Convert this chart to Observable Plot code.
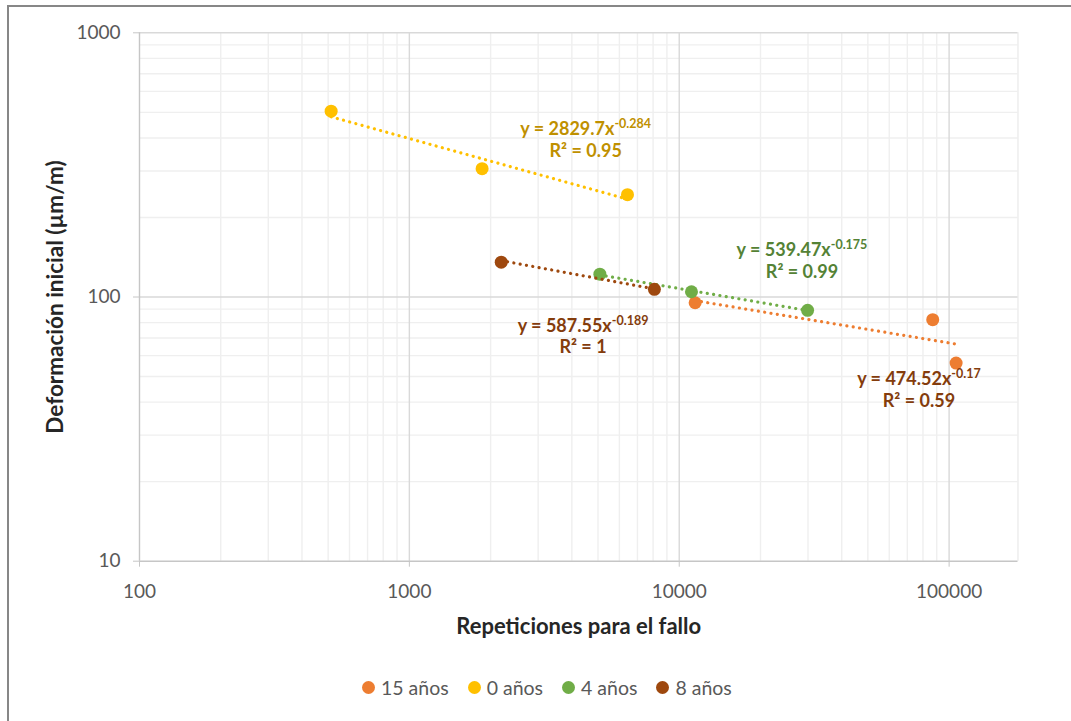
<!DOCTYPE html>
<html lang="es">
<head>
<meta charset="utf-8">
<title>Deformación inicial vs repeticiones para el fallo</title>
<script src="https://cdn.jsdelivr.net/npm/d3@7"></script>
<script src="https://cdn.jsdelivr.net/npm/@observablehq/plot@0.6"></script>
<style>
  html, body { margin: 0; padding: 0; background: #ffffff; }
  #wrap { position: relative; width: 1071px; height: 721px; overflow: hidden; font-family: Lato, "Noto Sans", sans-serif; }
  #border { position: absolute; left: 7px; top: 5px; width: 1120px; height: 780px; border: 2px solid #878787; box-sizing: border-box; }
  #chart { position: absolute; left: 0; top: 0; }
  #legend { position: absolute; left: 362px; top: 676px; height: 22px; display: flex; align-items: center; gap: 19px; color: #595959; font-size: 19.5px; }
  #legend .item { display: flex; align-items: center; gap: 6px; white-space: nowrap; }
  #legend .sw { width: 13px; height: 13px; border-radius: 50%; display: inline-block; }
</style>
</head>
<body>
<div id="wrap">
  <div id="border"></div>
  <div id="chart"></div>
  <div id="legend"></div>
</div>
<script>
// Series (legend order)
const seriesNames = ["15 años", "0 años", "4 años", "8 años"];
const seriesColors = ["#ED7D31", "#FFC000", "#70AD47", "#9E480E"];
const labelColors = ["#843C0C", "#BF9000", "#548235", "#843C0C"];

// Repetitions to failure (x) and initial strain in µm/m (y) per series
const reps15 = [11450, 86950, 106150];
const strain15 = [95.1, 82.1, 56.2];
const reps0 = [513, 1860, 6430];
const strain0 = [505, 306, 244];
const reps4 = [5080, 11100, 29900];
const strain4 = [122, 104.7, 89];
const reps8 = [2190, 8090];
const strain8 = [135.5, 106.9];

// Power trendlines y = a·x^b with their R²
const trendA = [474.52, 2829.7, 539.47, 587.55];
const trendB = [-0.17, -0.284, -0.175, -0.189];
const trendR2 = ["0.59", "0.95", "0.99", "1"];

// Where each trendline equation is written (data units)
const eqReps = [77300, 4500, 28500, 4400];
const eqStrain = [44.7, 396, 138, 71.5];

// Axis ticks
const xTicks = [100, 1000, 10000, 100000];
const yTicks = [10, 100, 1000];
const xDomain = [100, 180000];
const yDomain = [10, 1000];

const xTitle = "Repeticiones para el fallo";
const yTitle = "Deformación inicial (µm/m)";

// Build tables
const repsBySeries = [reps15, reps0, reps4, reps8];
const strainBySeries = [strain15, strain0, strain4, strain8];
const points = seriesNames.flatMap((s, i) =>
  repsBySeries[i].map((r, j) => ({series: s, reps: r, strain: strainBySeries[i][j]})));
const trends = seriesNames.flatMap((s, i) => {
  const ext = d3.extent(repsBySeries[i]);
  return ext.map(r => ({series: s, reps: r, strain: trendA[i] * Math.pow(r, trendB[i])}));
});
const equations = seriesNames.map((s, i) => ({
  series: s,
  reps: eqReps[i],
  strain: eqStrain[i],
  text: `y = ${trendA[i]}x^${trendB[i]}\nR² = ${trendR2[i]}`,
  color: labelColors[i]
}));

// Minor gridlines: 2..9 within every decade inside the domain
function minorTicks(domain) {
  const out = [];
  for (let d = domain[0]; d < domain[1]; d *= 10)
    for (let k = 2; k <= 9; k++) if (k * d < domain[1]) out.push(k * d);
  return out;
}
const xMinor = minorTicks(xDomain);
const yMinor = minorTicks(yDomain);

const W = 1071, H = 650;

const seriesMarks = seriesNames.flatMap((s, i) => [
  Plot.line(trends.filter(d => d.series === s), {
    x: "reps", y: "strain", stroke: seriesColors[i], strokeWidth: 3.2,
    strokeDasharray: "0.01 6.4", strokeLinecap: "round"
  }),
  Plot.dot(points.filter(d => d.series === s), {
    x: "reps", y: "strain", r: 6.5, fill: seriesColors[i], stroke: "none"
  })
]);

const chart = Plot.plot({
  width: W,
  height: H,
  marginLeft: 139,
  marginRight: 53.5,
  marginTop: 32.3,
  marginBottom: H - 560.7,
  style: {fontFamily: "Lato, 'Noto Sans', sans-serif", fontSize: "18px", background: "transparent", overflow: "visible"},
  x: {type: "log", domain: xDomain},
  y: {type: "log", domain: yDomain},
  marks: [
    Plot.ruleX(xMinor, {stroke: "#efefef", strokeWidth: 1.4}),
    Plot.ruleY(yMinor, {stroke: "#efefef", strokeWidth: 1.4}),
    Plot.ruleX([xDomain[1]], {stroke: "#ececec", strokeWidth: 1.4}),
    Plot.ruleX(xTicks.slice(1), {stroke: "#d9d9d9", strokeWidth: 1.4}),
    Plot.ruleY(yTicks.slice(1), {stroke: "#d9d9d9", strokeWidth: 1.4}),
    Plot.ruleY([yDomain[0]], {stroke: "#c6c6c6", strokeWidth: 1.4}),
    Plot.ruleX([xDomain[0]], {stroke: "#c6c6c6", strokeWidth: 1.4}),
    Plot.axisX({ticks: xTicks, tickFormat: d => String(d), tickSize: 6, tickPadding: 17,
      stroke: "#c6c6c6", fill: "#595959", fontSize: 19, label: null}),
    Plot.axisY({ticks: yTicks, tickFormat: d => String(d), tickSize: 6, tickPadding: 13,
      stroke: "#c6c6c6", fill: "#595959", fontSize: 19, label: null}),
    ...seriesMarks,
    Plot.text(equations, {
      x: "reps", y: "strain", text: "text", fill: "color",
      fontWeight: "bold", fontSize: 18, lineHeight: 1.22, textAnchor: "middle", lineAnchor: "middle"
    }),
    Plot.text([xTitle], {frameAnchor: "bottom", dy: 66, text: d => d, lineAnchor: "middle",
      textAnchor: "middle", fontWeight: "bold", fontSize: 22, fill: "#262626"}),
    Plot.text([yTitle], {frameAnchor: "left", dx: -84, rotate: -90, text: d => d, lineAnchor: "middle",
      textAnchor: "middle", fontWeight: "bold", fontSize: 22.5, fill: "#262626"})
  ]
});

// Render the power-law exponent as a superscript
d3.select(chart).selectAll("tspan").each(function () {
  const t = this.textContent;
  const k = t.indexOf("^");
  if (k < 0) return;
  const sel = d3.select(this);
  sel.text(t.slice(0, k));
  sel.append("tspan")
    .attr("font-size", 12.5)
    .attr("baseline-shift", "7")
    .text(t.slice(k + 1));
});

document.getElementById("chart").appendChild(chart);

// Legend below the chart
const legend = d3.select("#legend");
seriesNames.forEach((s, i) => {
  const item = legend.append("div").attr("class", "item");
  item.append("span").attr("class", "sw").style("background", seriesColors[i]);
  item.append("span").text(s);
});
</script>
</body>
</html>
